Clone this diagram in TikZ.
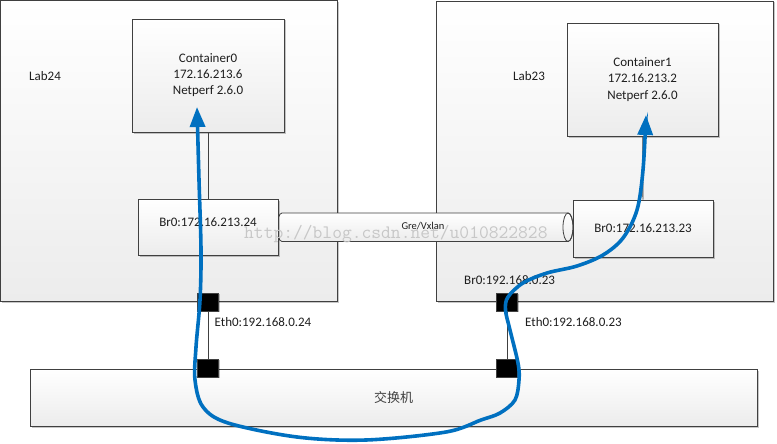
\documentclass[tikz,border=0pt]{standalone}
\usepackage{fontspec}
\setmainfont{Carlito}
\newfontfamily\cjk{Noto Sans CJK SC}
\usetikzlibrary{shadows,arrows.meta}
\definecolor{boxbot}{RGB}{236,236,236}
\definecolor{edge}{RGB}{64,64,64}
\definecolor{flow}{RGB}{0,112,192}
\definecolor{txtc}{RGB}{30,30,30}
\tikzset{
  box/.style={draw=edge, line width=0.8pt, top color=white, bottom color=boxbot,
    inner sep=0pt, text=txtc, align=center,
    drop shadow={shadow xshift=1.5pt, shadow yshift=-1.5pt, fill=black, opacity=0.22}},
  port/.style={draw=edge, fill=black, line width=0.6pt, minimum width=21pt, minimum height=18pt, inner sep=0pt,
    drop shadow={shadow xshift=1pt, shadow yshift=-1pt, fill=black, opacity=0.25}},
  txt/.style={text=txtc, inner sep=0pt, font=\fontsize{13}{16}\selectfont},
  conn/.style={draw=edge, line width=0.8pt},
  tubestyle/.style={draw=edge, line width=0.8pt, top color=white, bottom color=boxbot},
  flowline/.style={draw=flow, line width=3.6pt, line cap=round,
    {Triangle[width=15pt,length=20pt]}-{Triangle[width=15pt,length=20pt]}},
}
\begin{document}
\begin{tikzpicture}[x=1pt,y=-1pt]
\useasboundingbox (0,0) rectangle (777,444);
% hosts
\node[box, minimum width=337pt, minimum height=300.5pt] (lab24) at (169,150.75) {};
\node[box, minimum width=336.5pt, minimum height=300pt] (lab23) at (604.75,151) {};
\node[txt, anchor=west] (lab24t) at (29,76) {Lab24};
\node[txt, anchor=west] (lab23t) at (513,76) {Lab23};
% containers
\node[box, font=\fontsize{13}{16}\selectfont, minimum width=152pt, minimum height=113pt] (c0) at (208,75.5)
  {Container0\\172.16.213.6\\Netperf 2.6.0};
\node[box, font=\fontsize{13}{16.5}\selectfont, minimum width=151pt, minimum height=113pt] (c1) at (642.5,79.5)
  {Container1\\172.16.213.2\\Netperf 2.6.0};
% tunnel (Gre/Vxlan pipe)
\path[tubestyle] (282,213) -- (568,213) arc[start angle=90, end angle=-90, x radius=5pt, y radius=14.25pt]
  -- (282,241.5) arc[start angle=270, end angle=90, x radius=5pt, y radius=14.25pt] -- cycle;
\draw[conn] (568,227.25) ellipse [x radius=5pt, y radius=14.25pt];
\node[inner sep=0pt, text=txtc, font=\fontsize{10.5}{12}\selectfont] (tubet) at (423,226) {Gre/Vxlan};
% bridges
\node[box, minimum width=140pt, minimum height=56pt] (br0l) at (208,227) {};
\node[txt] (br0lt) at (208,222) {Br0:172.16.213.24};
\node[box, font=\fontsize{13}{16}\selectfont, minimum width=140pt, minimum height=57pt] (br0r) at (643,228.5)
  {Br0:172.16.213.23};
\draw[conn] (c0) -- (br0l);
\draw[conn] (c1) -- (br0r);
% switch
\node[box, minimum width=727pt, minimum height=57pt, font=\cjk\fontsize{13}{16}\selectfont, text=black!75] (sw) at (393.5,397.5) {交换机};
% ports
\node[port] (p1) at (208,302) {};
\node[port] (p2) at (208,368) {};
\node[port] (p3) at (507,302) {};
\node[port] (p4) at (507,368) {};
\draw[conn] (p1) -- (p2);
\draw[conn] (p3) -- (p4);
\node[txt, anchor=west] (eth24) at (214.5,322) {Eth0:192.168.0.24};
\node[txt, anchor=west] (eth23) at (525,322) {Eth0:192.168.0.23};
\node[txt, anchor=west] (br23) at (464,280) {Br0:192.168.0.23};
% watermark
\node[inner sep=0pt, anchor=base west, text=black!22, font=\ttfamily\fontsize{19}{20}\selectfont] (wm) at (244,238) {http://blog.csdn.net/u010822828};
% flow
\coordinate (tipL) at (197,107);
\coordinate (tipR) at (646,115);
\draw[flowline] plot[smooth, tension=0.55] coordinates {
 (tipL) (199,180) (201,250) (200,300) (196,347) (195,380) (203,407) (228,423) (297,437) (366,440)
 (446,432) (481,420) (500,413) (515,400) (519,380) (518,363) (510,330) (505.5,310) (508,297)
 (523,283) (547,273) (577,266) (603,255) (623,238) (637,210) (643,170) (tipR)};
\end{tikzpicture}
\end{document}
